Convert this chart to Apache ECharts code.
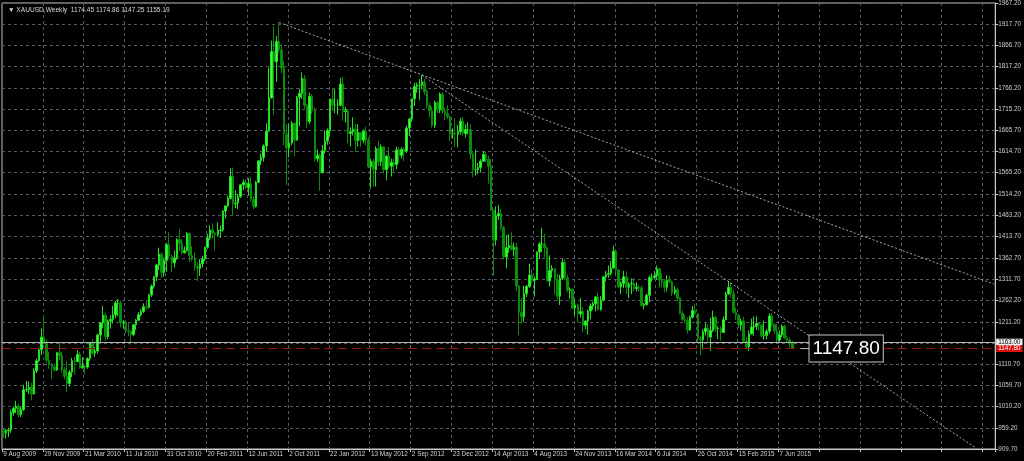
<!DOCTYPE html>
<html>
<head>
<meta charset="utf-8">
<script src="https://cdn.jsdelivr.net/npm/echarts@6/dist/echarts.min.js"></script>
<style>
html,body{margin:0;padding:0;background:#000;}
#chart{width:1024px;height:461px;}
</style>
</head>
<body>
<div id="chart"></div>
<script>
// Weekly XAUUSD bars: [open, close, low, high]
const ohlc2009 = [
[954,948,936,960],[948,953,934,957],[953,955,938,960],[955,996,948,1003],[996,1006,989,1010],
[1006,1011,995,1024],[1011,991,985,1018],[991,1003,985,1009],[1003,1050,1000,1062],[1050,1051,1045,1071],
[1051,1056,1040,1070],[1056,1040,1025,1066],[1040,1095,1040,1101],[1095,1119,1090,1124],[1119,1145,1116,1150],
[1145,1175,1132,1195],[1175,1161,1159,1227],[1161,1120,1114,1170],[1120,1110,1100,1140],[1110,1104,1075,1113],
[1104,1097,1093,1112]
];
const ohlc2010 = [
[1097,1138,1095,1140],[1138,1131,1120,1162],[1131,1098,1090,1140],[1098,1082,1075,1105],[1082,1065,1044,1118],
[1065,1092,1058,1097],[1092,1119,1080,1126],[1119,1117,1086,1128],[1117,1134,1115,1144],[1134,1102,1100,1140],
[1102,1106,1100,1127],[1106,1104,1088,1110],[1104,1124,1100,1127],[1124,1161,1118,1164],[1161,1137,1134,1170],
[1137,1142,1128,1152],[1142,1180,1136,1183],[1180,1209,1164,1211],[1209,1227,1196,1249],[1227,1176,1166,1233],
[1176,1213,1170,1217],[1213,1217,1195,1227],[1217,1228,1207,1249],[1228,1256,1220,1261],[1256,1256,1224,1265],
[1256,1209,1198,1262],[1209,1210,1195,1215],[1210,1190,1184,1215],[1190,1189,1177,1209],[1189,1181,1157,1190],
[1181,1204,1177,1206],[1204,1215,1192,1218],[1215,1228,1213,1234],[1228,1236,1224,1242],[1236,1247,1232,1255],
[1247,1246,1239,1260],[1246,1275,1243,1278],[1275,1296,1270,1300],[1296,1318,1290,1320],[1318,1346,1308,1349],
[1346,1372,1334,1387],[1372,1328,1315,1376],[1328,1357,1318,1362],[1357,1394,1330,1398],[1394,1367,1360,1424],
[1367,1351,1330,1371],[1351,1363,1340,1380],[1363,1406,1358,1410],[1406,1398,1378,1431],[1398,1375,1370,1407],
[1375,1380,1373,1390],[1380,1421,1378,1424]
];
const ohlc2011 = [
[1421,1368,1353,1423],[1368,1360,1355,1390],[1360,1342,1332,1375],[1342,1338,1308,1352],[1338,1349,1320,1360],
[1349,1360,1340,1368],[1360,1388,1355,1390],[1388,1410,1384,1420],[1410,1429,1405,1440],[1429,1421,1408,1445],
[1421,1418,1381,1425],[1418,1428,1413,1447],[1428,1429,1410,1440],[1429,1474,1425,1476],[1474,1486,1456,1488],
[1486,1504,1484,1510],[1504,1556,1501,1575],[1556,1491,1462,1577],[1491,1493,1481,1523],[1493,1508,1478,1514],
[1508,1536,1505,1538],[1536,1542,1523,1549],[1542,1529,1526,1550],[1529,1539,1510,1552],[1539,1501,1496,1555],
[1501,1485,1478,1510],[1485,1542,1482,1545],[1542,1593,1541,1595],[1593,1601,1583,1610],[1601,1628,1591,1632],
[1628,1663,1615,1682],[1663,1742,1663,1814],[1742,1852,1741,1878],[1852,1828,1702,1912],[1828,1876,1780,1889],
[1876,1856,1850,1921],[1856,1813,1800,1870],[1813,1657,1630,1830],[1657,1624,1535,1680],[1624,1635,1601,1680],
[1635,1682,1630,1687],[1682,1642,1604,1684],[1642,1744,1641,1747],[1744,1753,1675,1764],[1753,1788,1740,1803],
[1788,1724,1717,1796],[1724,1686,1671,1728],[1686,1746,1680,1755],[1746,1713,1704,1752],[1713,1598,1591,1720],
[1598,1606,1591,1620],[1606,1565,1522,1610]
];
const ohlc2012 = [
[1565,1617,1563,1630],[1617,1640,1610,1665],[1640,1665,1631,1670],[1665,1739,1652,1741],[1739,1725,1712,1764],
[1725,1725,1706,1763],[1725,1725,1703,1739],[1725,1775,1722,1790],[1775,1710,1688,1792],[1710,1712,1684,1721],
[1712,1658,1635,1716],[1658,1662,1627,1672],[1662,1668,1653,1696],[1668,1641,1613,1680],[1641,1660,1627,1680],
[1660,1642,1626,1660],[1642,1663,1635,1667],[1663,1643,1630,1674],[1643,1579,1576,1649],[1579,1592,1527,1598],
[1592,1572,1532,1597],[1572,1622,1532,1627],[1622,1591,1580,1640],[1591,1626,1580,1632],[1626,1572,1563,1628],
[1572,1604,1547,1607],[1604,1580,1575,1626],[1580,1589,1556,1598],[1589,1584,1565,1598],[1584,1619,1573,1627],
[1619,1606,1588,1625],[1606,1620,1599,1625],[1620,1616,1592,1625],[1616,1671,1612,1676],[1671,1692,1652,1695],
[1692,1740,1686,1740],[1740,1769,1723,1778],[1769,1772,1754,1778],[1772,1772,1737,1787],[1772,1780,1763,1796],
[1780,1757,1750,1787],[1757,1724,1718,1763],[1724,1712,1696,1731],[1712,1677,1672,1721],[1677,1731,1671,1736],
[1731,1714,1706,1734],[1714,1751,1706,1755],[1751,1711,1705,1755],[1711,1705,1690,1720],[1705,1697,1692,1725],
[1697,1657,1640,1700],[1657,1657,1645,1670],[1657,1656,1626,1694]
];
const ohlc2013 = [
[1656,1662,1625,1678],[1662,1687,1655,1695],[1687,1658,1652,1697],[1658,1667,1648,1680],[1667,1667,1655,1684],
[1667,1609,1597,1680],[1609,1572,1554,1613],[1572,1572,1558,1620],[1572,1577,1562,1588],[1577,1592,1565,1597],
[1592,1608,1590,1616],[1608,1596,1590,1615],[1596,1580,1539,1605],[1580,1476,1475,1597],[1476,1405,1321,1476],
[1405,1462,1392,1485],[1462,1468,1453,1488],[1468,1435,1428,1478],[1435,1365,1359,1438],[1365,1387,1338,1417],
[1387,1392,1375,1419],[1392,1383,1380,1424],[1383,1388,1366,1399],[1388,1296,1285,1398],[1296,1234,1180,1299],
[1234,1223,1207,1267],[1223,1278,1211,1297],[1278,1295,1270,1299],[1295,1322,1292,1349],[1322,1310,1301,1336],
[1310,1313,1271,1318],[1313,1377,1310,1378],[1377,1396,1360,1400],[1396,1396,1376,1434],[1396,1387,1364,1420],
[1387,1308,1307,1389],[1308,1333,1295,1369],[1333,1338,1316,1346],[1338,1310,1277,1336],[1310,1272,1262,1326],
[1272,1315,1251,1323],[1315,1352,1311,1361],[1352,1315,1309,1361],[1315,1286,1281,1323],[1286,1288,1266,1293],
[1288,1244,1241,1291],[1244,1251,1227,1264],[1251,1230,1211,1254],[1230,1236,1222,1268],[1236,1203,1186,1247],
[1203,1213,1194,1215],[1213,1237,1181,1240]
];
const ohlc2014 = [
[1237,1249,1217,1255],[1249,1254,1240,1259],[1254,1270,1236,1272],[1270,1240,1238,1280],[1240,1263,1238,1272],
[1263,1318,1260,1320],[1318,1324,1307,1332],[1324,1326,1316,1345],[1326,1339,1321,1355],[1339,1379,1337,1392],
[1379,1334,1321,1384],[1334,1294,1291,1337],[1294,1302,1277,1307],[1302,1318,1291,1332],[1318,1293,1277,1331],
[1293,1301,1268,1305],[1301,1302,1277,1314],[1302,1290,1284,1315],[1290,1293,1283,1305],[1293,1292,1284,1298],
[1292,1250,1248,1297],[1250,1252,1241,1256],[1252,1274,1250,1278],[1274,1316,1257,1321],[1316,1316,1306,1326],
[1316,1320,1312,1332],[1320,1337,1311,1345],[1337,1310,1292,1338],[1310,1307,1293,1326],[1307,1293,1281,1311],
[1293,1310,1283,1322],[1310,1306,1303,1320],[1306,1280,1273,1309],[1280,1287,1275,1296],[1287,1268,1261,1293],
[1268,1231,1229,1270],[1231,1216,1214,1238],[1216,1214,1207,1228],[1214,1192,1183,1222],[1192,1222,1190,1226],
[1222,1238,1219,1249],[1238,1231,1228,1255],[1231,1171,1161,1233],[1171,1169,1132,1178],[1169,1188,1145,1194],
[1188,1196,1179,1208],[1196,1175,1165,1206],[1175,1191,1142,1221],[1191,1222,1187,1238],[1222,1195,1187,1225],
[1195,1195,1170,1200],[1195,1186,1166,1201]
];
const ohlc2015 = [
[1186,1216,1186,1224],[1216,1277,1215,1282],[1277,1293,1275,1307],[1293,1279,1268,1305],[1279,1234,1231,1287],
[1234,1227,1216,1245],[1227,1204,1197,1230],[1204,1213,1191,1219],[1213,1165,1164,1223],[1165,1152,1148,1176],
[1152,1183,1142,1191],[1183,1199,1181,1219],[1199,1201,1178,1224],[1201,1207,1192,1224],[1207,1204,1190,1209],
[1204,1178,1174,1205],[1178,1179,1169,1214],[1179,1189,1170,1194],[1189,1225,1183,1232],[1225,1205,1200,1232],
[1205,1190,1183,1208],[1190,1168,1162,1205],[1168,1180,1164,1191],[1180,1201,1175,1205],[1201,1173,1170,1205],
[1173,1168,1161,1179],[1168,1160,1150,1174],[1162,1147.8,1147.25,1166]
];

// Price-axis tick labels as printed on the right scale
const yTickLabels = ['909.70','959.20','1010.20','1059.70','1110.70','1160.20','1211.20','1262.20','1311.70',
  '1362.70','1413.70','1463.20','1514.20','1565.20','1614.70','1665.70','1715.20','1766.20','1817.20',
  '1866.70','1917.70','1967.20'];
const yMin = 909.70, yMax = 1967.20;

// Chart objects: [barIndex, price]
const trend1 = [[108, 1921], [388, 1301]];
const trend2 = [[164, 1796], [381, 911.7]];
const bidPrice = 1147.80;
const hLinePrice = 1163.0;
const headerText = 'XAUUSD,Weekly  1174.45 1174.86 1147.25 1155.19';

const totalSlots = 389;
const startUTC = Date.UTC(2009, 7, 9);
const monthNames = ['Jan','Feb','Mar','Apr','May','Jun','Jul','Aug','Sep','Oct','Nov','Dec'];

const ohlc = [].concat(ohlc2009, ohlc2010, ohlc2011, ohlc2012, ohlc2013, ohlc2014, ohlc2015);
const categories = [];
for (let i = 0; i < totalSlots; i++) {
  const d = new Date(startUTC + i * 7 * 86400000);
  categories.push(d.getUTCDate() + ' ' + monthNames[d.getUTCMonth()] + ' ' + d.getUTCFullYear());
}
const yTickValues = yTickLabels.map(Number);

const FONT = 'Liberation Sans, Arial, sans-serif';
const chart = echarts.init(document.getElementById('chart'), null, {renderer: 'canvas'});
chart.setOption({
  backgroundColor: '#000000',
  animation: false,
  title: {
    text: '\u25BC ' + headerText,
    left: 3, top: 2,
    textStyle: {color: '#d8d8d8', fontSize: 6.6, fontWeight: 'normal', fontFamily: FONT}
  },
  grid: {left: 2, right: 28, top: 2, bottom: 12, show: true, borderColor: '#c8c8c8', borderWidth: 1, backgroundColor: '#000'},
  xAxis: {
    type: 'category',
    data: categories,
    boundaryGap: true,
    axisLine: {show: true, lineStyle: {color: '#c8c8c8'}},
    axisTick: {show: true, interval: 15, length: 3, lineStyle: {color: '#c8c8c8'}},
    axisLabel: {
      show: true, interval: 15, align: 'left', margin: 2,
      color: '#d0d0d0', fontSize: 6.4, fontFamily: FONT,
      formatter: function (v, idx) { return idx < ohlc.length - 3 ? v : ''; }
    },
    splitLine: {show: true, interval: 15, lineStyle: {color: '#565b61', type: [3, 3], width: 1}}
  },
  yAxis: {
    type: 'value',
    position: 'right',
    min: yMin, max: yMax,
    axisLine: {show: true, lineStyle: {color: '#c8c8c8'}},
    axisTick: {show: true, length: 3, customValues: yTickValues, lineStyle: {color: '#c8c8c8'}},
    axisLabel: {
      show: true, margin: 3, customValues: yTickValues,
      color: '#d0d0d0', fontSize: 6.3, fontFamily: FONT,
      formatter: function (v) { return v.toFixed(2); }
    },
    splitLine: {show: true, lineStyle: {color: '#565b61', type: [3, 3], width: 1}}
  },
  series: [{
    type: 'candlestick',
    data: ohlc,
    barWidth: 2,
    itemStyle: {
      color: '#3cff3c', borderColor: '#22e022',
      color0: '#0a8f0a', borderColor0: '#0b8a0b',
      borderWidth: 1
    },
    markLine: {
      symbol: ['none', 'none'],
      silent: true,
      animation: false,
      data: [
        [{coord: trend1[0], lineStyle: {color: '#9fa9b2', type: [2, 2], width: 1}},
         {coord: trend1[1]}],
        [{coord: trend2[0], lineStyle: {color: '#9fa9b2', type: [2, 2], width: 1}},
         {coord: trend2[1]}],
        {yAxis: hLinePrice, lineStyle: {color: '#b4b4b4', type: 'solid', width: 1},
         label: {show: true, position: 'end', distance: 1, formatter: hLinePrice.toFixed(2),
           color: '#000', backgroundColor: '#f2f2f2', fontSize: 6.3, fontFamily: FONT, padding: [1, 2, 0, 2]}},
        {yAxis: bidPrice, lineStyle: {color: '#9a1418', type: [9, 5], width: 1},
         label: {show: true, position: 'end', distance: 1, formatter: bidPrice.toFixed(2),
           color: '#fff', backgroundColor: '#e00f0f', fontSize: 6.3, fontFamily: FONT, padding: [1, 2, 0, 2]}}
      ],
      label: {show: false}
    },
    markPoint: {
      silent: true,
      animation: false,
      data: [{
        coord: [314, bidPrice],
        symbol: 'rect', symbolSize: [9, 1],
        itemStyle: {color: '#c0c0c0'},
        label: {
          show: true, position: 'right', distance: 0,
          formatter: bidPrice.toFixed(2),
          color: '#ffffff', fontSize: 19, fontFamily: FONT,
          backgroundColor: '#000000', borderColor: '#c8c8c8', borderWidth: 1,
          padding: [4, 3, 3, 3]
        }
      }]
    }
  }]
});
</script>
</body>
</html>
